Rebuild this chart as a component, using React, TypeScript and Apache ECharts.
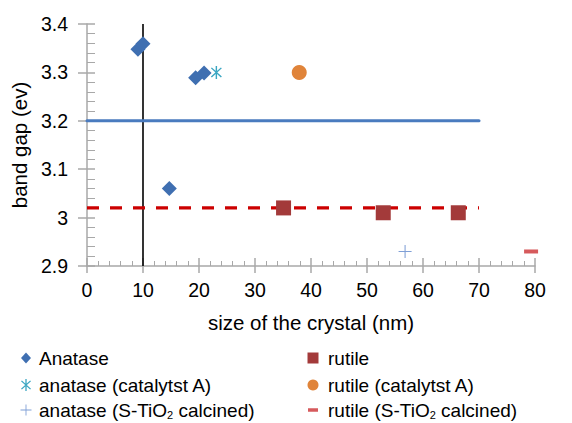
import React, { useEffect, useRef } from "react";
import * as echarts from "echarts";

const anataseX = [9.1, 10.0, 19.4, 20.9, 14.7];
const anataseY = [3.348, 3.359, 3.289, 3.299, 3.06];
const anataseCatX = [23.1];
const anataseCatY = [3.3];
const anataseSX = [56.8];
const anataseSY = [2.93];
const rutileX = [35.1, 52.9, 66.3];
const rutileY = [3.02, 3.01, 3.01];
const rutileCatX = [37.9];
const rutileCatY = [3.3];
const rutileSX = [79.3];
const rutileSY = [2.93];

const anataseLineX = [0, 70];
const anataseLineY = [3.2, 3.2];
const rutileLineX = [0, 70];
const rutileLineY = [3.02, 3.02];
const verticalLineX = [10, 10];
const verticalLineY = [2.9, 3.4];

const seriesNames = [
  "Anatase",
  "anatase (catalytst A)",
  "anatase (S-TiO2 calcined)",
  "rutile",
  "rutile (catalytst A)",
  "rutile (S-TiO2 calcined)",
];

const xTicks = { min: 0, max: 80, interval: 10 };
const yTicks = { min: 2.9, max: 3.4, interval: 0.1 };

const ASTERISK =
  "path://M9,0 L11,0 L11,20 L9,20 Z M3.7,2.3 L17.7,16.3 L16.3,17.7 L2.3,3.7 Z M16.3,2.3 L17.7,3.7 L3.7,17.7 L2.3,16.3 Z";
const PLUS = "path://M0,9.2 L20,9.2 L20,10.8 L0,10.8 Z M9.2,0 L10.8,0 L10.8,20 L9.2,20 Z";
const DASH = "path://M0,0 L20,0 L20,6 L0,6 Z";

const zip = (xs: number[], ys: number[]) => xs.map((x, i) => [x, ys[i]]);

const FONT = "Liberation Sans";

export default function App() {
  const ref = useRef<HTMLDivElement>(null);
  useEffect(() => {
    if (!ref.current) return;
    const chart = echarts.init(ref.current, undefined, { renderer: "svg" });
    const axisColor = "#a8a8a8";
    const baseX = {
      type: "value",
      min: xTicks.min,
      max: xTicks.max,
      interval: xTicks.interval,
      splitLine: { show: false },
    };
    const baseY = {
      type: "value",
      min: yTicks.min,
      max: yTicks.max,
      interval: yTicks.interval,
      splitLine: { show: false },
    };
    const fmt = (name: string) => name.replace("TiO2", "TiO{sub|2}");
    // legend layout: [name, icon, iconW, iconH, iconCenterX, textStartX, textCenterY]
    const legendSpec: [string, string, number, number, number, number, number][] = [
      [seriesNames[0], "diamond", 10, 11, 26, 39, 358],
      [seriesNames[1], ASTERISK, 10, 12, 26, 39, 385],
      [seriesNames[2], PLUS, 11, 11, 26, 39, 410],
      [seriesNames[3], "rect", 11, 11, 313, 328, 358],
      [seriesNames[4], "circle", 11, 11, 313, 328, 385],
      [seriesNames[5], DASH, 10, 3.5, 313, 328, 410],
    ];
    const legends = legendSpec.map(([name, icon, w, h, cx, tx, cy]) => {
      const left = cx - w / 2;
      const pad = tx - (left + w + 5);
      return {
        data: [{ name, icon }],
        orient: "vertical",
        left,
        top: cy - 10,
        padding: 0,
        itemWidth: w,
        itemHeight: h,
        symbolKeepAspect: false,
        formatter: fmt,
        textStyle: {
          fontSize: 19,
          color: "#000",
          fontFamily: FONT,
          lineHeight: 20,
          padding: [0, 0, 0, pad],
          rich: {
            sub: {
              fontSize: 11,
              lineHeight: 6,
              verticalAlign: "bottom",
              fontFamily: FONT,
              color: "#000",
            },
          },
        },
      };
    });
    const option: any = {
      animation: false,
      backgroundColor: "#fff",
      grid: { left: 87, top: 24, width: 448, height: 242, containLabel: false },
      xAxis: [
        {
          ...baseX,
          position: "bottom",
          name: "size of the crystal (nm)",
          nameLocation: "middle",
          nameGap: 46,
          nameTextStyle: { fontSize: 20.5, color: "#000", fontFamily: FONT },
          axisLine: { show: true, lineStyle: { color: axisColor, width: 1.5 } },
          axisTick: { show: true, inside: false, length: 7, lineStyle: { color: axisColor, width: 1.5 } },
          minorTick: { show: false },
          axisLabel: { fontSize: 19.5, color: "#000", fontFamily: FONT, margin: 14 },
        },
        {
          ...baseX,
          position: "bottom",
          axisLine: { show: false },
          axisTick: { show: true, inside: true, length: 8, lineStyle: { color: axisColor, width: 1.5 } },
          minorTick: { show: true, splitNumber: 5, length: 5, lineStyle: { color: axisColor, width: 1 } },
          axisLabel: { show: false },
        },
      ],
      yAxis: [
        {
          ...baseY,
          position: "left",
          name: "band gap (ev)",
          nameLocation: "middle",
          nameGap: 55,
          nameTextStyle: { fontSize: 20.5, color: "#000", fontFamily: FONT },
          axisLine: { show: true, lineStyle: { color: axisColor, width: 1.5 } },
          axisTick: { show: true, inside: false, length: 9, lineStyle: { color: axisColor, width: 1.5 } },
          minorTick: { show: false },
          axisLabel: {
            fontSize: 19.5,
            color: "#000",
            fontFamily: FONT,
            margin: 19,
            formatter: (v: number) => String(Number(v.toFixed(1))),
          },
        },
        {
          ...baseY,
          position: "left",
          axisLine: { show: false },
          axisTick: { show: true, inside: true, length: 8, lineStyle: { color: axisColor, width: 1.5 } },
          minorTick: { show: true, splitNumber: 5, length: 8, lineStyle: { color: axisColor, width: 1 } },
          axisLabel: { show: false },
        },
      ],
      legend: legends,
      series: [
        {
          type: "line",
          data: zip(verticalLineX, verticalLineY),
          symbol: "none",
          lineStyle: { color: "#000", width: 1.6 },
          z: 1,
        },
        {
          type: "line",
          data: zip(anataseLineX, anataseLineY),
          symbol: "none",
          lineStyle: { color: "#4a7bbf", width: 3, cap: "round" },
          z: 1,
        },
        {
          type: "line",
          data: zip(rutileLineX, rutileLineY),
          symbol: "none",
          lineStyle: { color: "#cc0000", width: 3.2, type: [12, 11] },
          z: 1,
        },
        {
          name: seriesNames[0],
          type: "scatter",
          data: zip(anataseX, anataseY),
          symbol: "diamond",
          symbolSize: 15,
          itemStyle: { color: "#3f6fb1", opacity: 1 },
          z: 3,
        },
        {
          name: seriesNames[1],
          type: "scatter",
          data: zip(anataseCatX, anataseCatY),
          symbol: ASTERISK,
          symbolSize: [11, 13],
          itemStyle: { color: "#3aa6c2", opacity: 1 },
          z: 3,
        },
        {
          name: seriesNames[2],
          type: "scatter",
          data: zip(anataseSX, anataseSY),
          symbol: PLUS,
          symbolSize: 13,
          itemStyle: { color: "#7f9fd6", opacity: 1 },
          z: 3,
        },
        {
          name: seriesNames[3],
          type: "scatter",
          data: zip(rutileX, rutileY),
          symbol: "rect",
          symbolSize: 15,
          itemStyle: { color: "#a33a3a", opacity: 1 },
          z: 3,
        },
        {
          name: seriesNames[4],
          type: "scatter",
          data: zip(rutileCatX, rutileCatY),
          symbol: "circle",
          symbolSize: 15,
          itemStyle: { color: "#e0843a", opacity: 1 },
          z: 3,
        },
        {
          name: seriesNames[5],
          type: "scatter",
          data: zip(rutileSX, rutileSY),
          symbol: DASH,
          symbolSize: [14, 4],
          itemStyle: { color: "#d65a5c", opacity: 1 },
          z: 3,
        },
      ],
    };
    chart.setOption(option);
    return () => chart.dispose();
  }, []);
  return (
    <div
      ref={ref}
      style={{ position: "fixed", left: 0, top: 0, width: 572, height: 423, background: "#fff" }}
    />
  );
}
